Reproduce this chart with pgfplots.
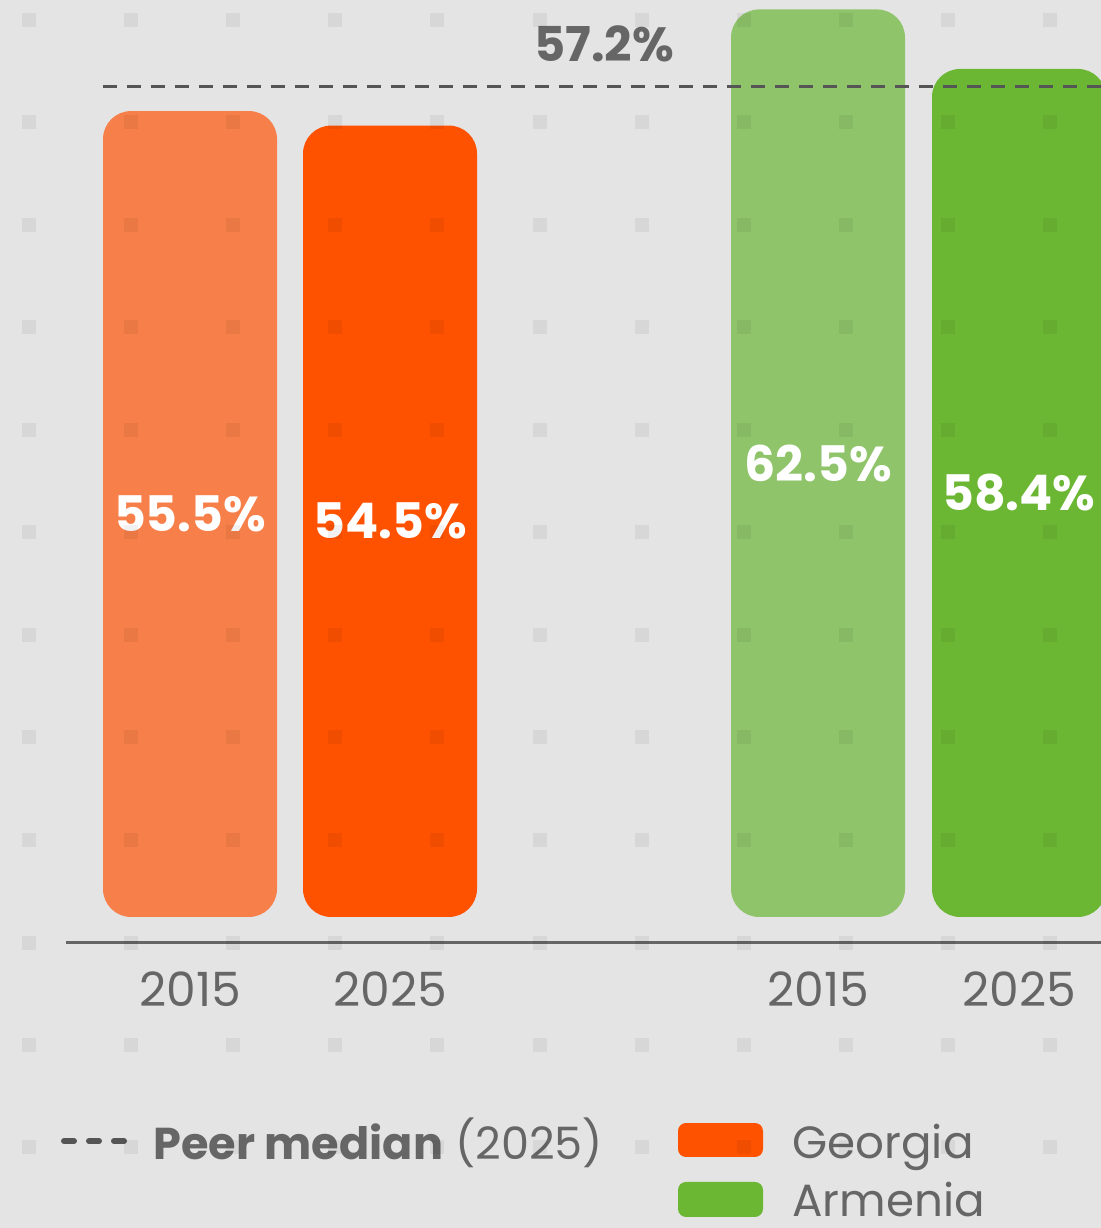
\documentclass[border=0pt]{standalone}
\usepackage{pgfplots}
\pgfplotsset{compat=1.18}
\usepackage{fontspec}
\setmainfont{Poppins}
\definecolor{bgc}{HTML}{E4E4E4}
\definecolor{geoA}{HTML}{F77F4A}
\definecolor{geoB}{HTML}{FF5200}
\definecolor{armA}{HTML}{8FC46A}
\definecolor{armB}{HTML}{6BB633}
\definecolor{txt}{HTML}{666666}
\definecolor{med}{HTML}{555555}
\begin{document}
\begin{tikzpicture}
\useasboundingbox (0,0) rectangle (550.5pt,614pt);
\fill[bgc] (0,0) rectangle (550.5pt,614pt);
\begin{axis}[at={(0,0)}, anchor=south west, scale only axis,
  width=550.5pt, height=614pt,
  xmin=0, xmax=1101, ymin=-21.42, ymax=63.15,
  hide axis]
% bars
\addplot[ybar, bar width=174, bar shift=0pt, fill=geoA, draw=none, rounded corners=14pt] coordinates {(190,55.5)};
\addplot[ybar, bar width=174, bar shift=0pt, fill=geoB, draw=none, rounded corners=14pt] coordinates {(390,54.5)};
\addplot[ybar, bar width=174, bar shift=0pt, fill=armA, draw=none, rounded corners=14pt] coordinates {(818,62.5)};
\addplot[ybar, bar width=174, bar shift=0pt, fill=armB, draw=none, rounded corners=14pt] coordinates {(1019,58.4)};
% peer median
\addplot[med, line width=1.5pt, dash pattern=on 7pt off 5pt] coordinates {(103,57.2) (1101,57.2)};
% legend swatches
\fill[geoB, rounded corners=4pt] (axis cs:678,-14.19) rectangle (axis cs:763,-16.53);
\fill[armB, rounded corners=4pt] (axis cs:678,-18.25) rectangle (axis cs:763,-20.66);
% dot grid
\pgfplotsinvokeforeach{61.78,54.72,47.66,40.60,33.54,26.48,19.42,12.36,5.30,-1.76,-8.82,-15.87}{
\addplot[only marks, mark=square*, mark size=3.5pt,
  mark options={fill=black, draw=black, fill opacity=0.055, draw opacity=0, line width=0pt, rounded corners=1.5pt}]
  coordinates {(28.5,#1) (130.5,#1) (232.5,#1) (334.5,#1) (436.5,#1) (539.5,#1) (641.5,#1) (743.5,#1) (845.5,#1) (947.5,#1) (1049.5,#1)};
}
% baseline
\addplot[txt, line width=1.5pt] coordinates {(66,-1.79) (1101,-1.79)};
% legend dash
\addplot[med, line width=3pt, line cap=round, dash pattern=on 5pt off 7.5pt] coordinates {(64,-15.43) (124,-15.43)};
% value labels
\node[text=white, font=\fontsize{24.5}{30}\selectfont\bfseries] at (axis cs:190,27.75) {55.5\%};
\node[text=white, font=\fontsize{24.5}{30}\selectfont\bfseries] at (axis cs:390,27.25) {54.5\%};
\node[text=white, font=\fontsize{24.5}{30}\selectfont\bfseries] at (axis cs:818,31.25) {62.5\%};
\node[text=white, font=\fontsize{24.5}{30}\selectfont\bfseries] at (axis cs:1019,29.2) {58.4\%};
\node[text=txt, font=\fontsize{24}{30}\selectfont\bfseries] at (axis cs:604,60.12) {57.2\%};
% tick labels
\node[text=txt, anchor=base, font=\fontsize{23.6}{28}\selectfont] at (axis cs:190,-6.2) {2015};
\node[text=txt, anchor=base, font=\fontsize{23.6}{28}\selectfont] at (axis cs:390,-6.2) {2025};
\node[text=txt, anchor=base, font=\fontsize{23.6}{28}\selectfont] at (axis cs:818,-6.2) {2015};
\node[text=txt, anchor=base, font=\fontsize{23.6}{28}\selectfont] at (axis cs:1019,-6.2) {2025};
% legend texts
\node[text=txt, anchor=base west, inner sep=0pt, font=\fontsize{22.3}{27}\selectfont] at (axis cs:153,-16.67) {\textbf{Peer median} (2025)};
\node[text=txt, anchor=base west, inner sep=0pt, font=\fontsize{22.6}{27}\selectfont] at (axis cs:792,-16.60) {Georgia};
\node[text=txt, anchor=base west, inner sep=0pt, font=\fontsize{22.6}{27}\selectfont] at (axis cs:792,-20.66) {Armenia};
\end{axis}
\end{tikzpicture}
\end{document}
